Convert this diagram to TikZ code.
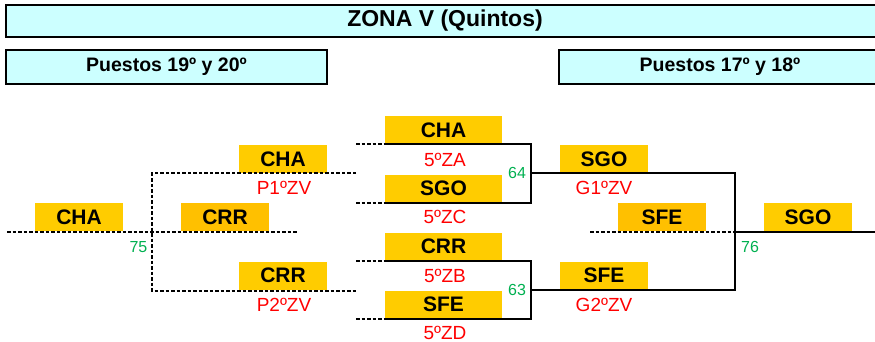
\documentclass[tikz,border=0pt]{standalone}
\usepackage{fontspec}
\setmainfont{Liberation Sans}
\definecolor{hdrcyan}{HTML}{CCFFFF}
\definecolor{teamyel}{HTML}{FFCC00}
\definecolor{teamorg}{HTML}{FFC000}
\definecolor{lblred}{HTML}{FF0000}
\definecolor{numgreen}{HTML}{00B050}
\tikzset{
  hdrbox/.style={draw=black, line width=2pt, fill=hdrcyan, inner sep=0pt, font=\bfseries\fontsize{19.5}{19.5}\selectfont},
  team/.style={fill=teamyel, inner sep=0pt, minimum width=88pt, minimum height=28pt, font=\bfseries\fontsize{21}{21}\selectfont},
  teamw/.style={team, minimum width=117pt},
  teamd/.style={team, fill=teamorg},
  seed/.style={text=lblred, inner sep=0pt, font=\fontsize{19}{19}\selectfont},
  gameno/.style={text=numgreen, inner sep=0pt, font=\fontsize{16}{16}\selectfont},
  solidln/.style={line width=1.6pt},
  dashln/.style={line width=1.6pt, dash pattern=on 3.5pt off 2pt},
}
\begin{document}
\begin{tikzpicture}[x=1pt,y=-1pt]
\useasboundingbox (0,0) rectangle (875,342);
% headers
\node[hdrbox, minimum width=878pt, minimum height=32pt, font=\bfseries\fontsize{23}{23}\selectfont] (title) at (445,21) {ZONA V (Quintos)};
\node[hdrbox, minimum width=321pt, minimum height=34pt] (h1920) at (166.5,67) {Puestos 19º y 20º};
\node[hdrbox, minimum width=322pt, minimum height=34pt] (h1718) at (720,67) {Puestos 17º y 18º};
% team boxes
\node[team] (chaL) at (79,217) {CHA};
\node[teamd] (crrL) at (225,217) {CRR};
\node[team] (chaP) at (283,159) {CHA};
\node[team] (crrP) at (283,275.5) {CRR};
\node[teamw] (chaA) at (443.5,130) {CHA};
\node[teamw] (sgoC) at (443.5,188.5) {SGO};
\node[teamw] (crrB) at (443.5,246.5) {CRR};
\node[teamw] (sfeD) at (443.5,304.5) {SFE};
\node[team] (sgoG) at (604,159) {SGO};
\node[team] (sfeG) at (604,275.5) {SFE};
\node[teamd] (sfeM) at (662,217) {SFE};
\node[team] (sgoF) at (808,217) {SGO};
% seed labels
\node[seed] (lP1) at (284,188) {P1ºZV};
\node[seed] (lP2) at (284,305) {P2ºZV};
\node[seed] (lZA) at (445,160) {5ºZA};
\node[seed] (lZC) at (445,217) {5ºZC};
\node[seed] (lZB) at (445,276) {5ºZB};
\node[seed] (lZD) at (445,333) {5ºZD};
\node[seed] (lG1) at (604,188) {G1ºZV};
\node[seed] (lG2) at (604,305) {G2ºZV};
% game numbers
\node[gameno] (g75) at (138.5,247) {75};
\node[gameno] (g64) at (517,173) {64};
\node[gameno] (g63) at (517,290) {63};
\node[gameno] (g76) at (750,247) {76};
% coordinates
\coordinate (l0) at (7,232);
\coordinate (l1) at (297,232);
\coordinate (lt) at (152,173);
\coordinate (lm) at (152,232);
\coordinate (lb) at (152,291);
\coordinate (lte) at (356,173);
\coordinate (lbe) at (356,291);
\coordinate (aS) at (356,144);
\coordinate (aM) at (385,144);
\coordinate (aE) at (531,144);
\coordinate (cS) at (356,203);
\coordinate (cM) at (385,203);
\coordinate (cE) at (531,203);
\coordinate (bS) at (356,261);
\coordinate (bM) at (385,261);
\coordinate (bE) at (531,261);
\coordinate (dS) at (356,319);
\coordinate (dM) at (385,319);
\coordinate (dE) at (531,319);
\coordinate (j64) at (531,173);
\coordinate (j63) at (531,290);
\coordinate (rt) at (735,173);
\coordinate (rb) at (735,290);
\coordinate (rm) at (735,232);
\coordinate (r0) at (590,232);
\coordinate (r1) at (875,232);
% left bracket (dashed)
\draw[dashln] (l0) -- (l1);
\draw[dashln] (lte) -- (lt) -- (lb) -- (lbe);
% semifinals
\draw[dashln] (aS) -- (aM);
\draw[dashln] (cS) -- (cM);
\draw[dashln] (bS) -- (bM);
\draw[dashln] (dS) -- (dM);
\draw[solidln] (aM) -- (aE) -- (cE) -- (cM);
\draw[solidln] (bM) -- (bE) -- (dE) -- (dM);
\draw[solidln] (j64) -- (rt) -- (rb) -- (j63);
\draw[dashln] (r0) -- (rm);
\draw[solidln] (rm) -- (r1);
\end{tikzpicture}
\end{document}
